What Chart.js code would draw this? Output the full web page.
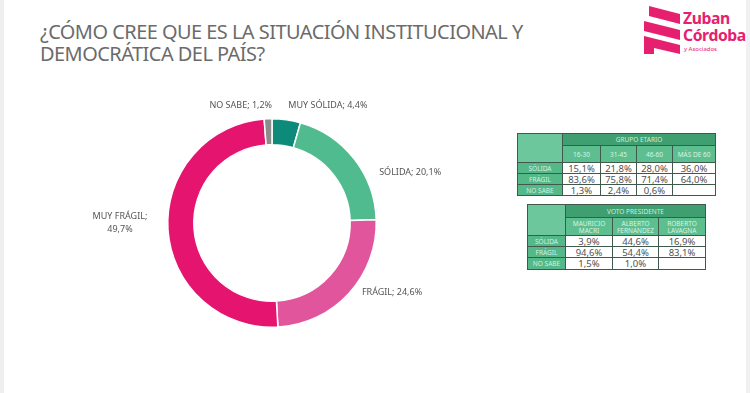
<!DOCTYPE html>
<html>
<head>
<meta charset="utf-8">
<script src="https://cdn.jsdelivr.net/npm/chart.js@4.4.1/dist/chart.umd.min.js"></script>
<style>
  html, body { margin: 0; padding: 0; background: #fff; }
  body { width: 750px; height: 393px; position: relative; overflow: hidden; font-family: "Noto Sans", sans-serif; }
  .edge-l { position: absolute; left: 0; top: 0; width: 4px; height: 393px; background: #eeeeee; }
  .edge-r { position: absolute; right: 0; top: 0; width: 4px; height: 393px; background: #f1f1f1; }
  .title { position: absolute; left: 40px; top: 21px; color: #6b6b6b; font-size: 19px; line-height: 22px; letter-spacing: -0.5px; transform-origin: 0 0; transform: scaleX(1.05); white-space: nowrap; }
  .logo { position: absolute; left: 640px; top: 4px; width: 110px; height: 52px; }
  .logo-text { position: absolute; left: 683px; top: 10px; color: #e6206f; font-weight: bold; font-size: 16px; line-height: 17px; letter-spacing: -0.4px; transform-origin: 0 0; transform: scaleX(0.98); }
  .logo-sub { position: absolute; left: 684px; top: 45px; color: #e6206f; font-size: 6px; }
  #donut-wrap { position: absolute; left: 60px; top: 80px; width: 424px; height: 286px; }
  table.tb { position: absolute; border-collapse: collapse; table-layout: fixed; font-size: 9.5px; color: #505050; }
  table.tb td { border: 1.5px solid #3f5a4c; padding: 0; text-align: center; line-height: 9px; overflow: hidden; white-space: nowrap; }
  table.tb td.corner { background: #6cc79c; }
  table.tb td.group { background: #3f9f71; color: #cdeedd; font-size: 6.5px; }
  table.tb td.head { background: #5dbf8f; color: #d7f3e5; font-size: 6.5px; line-height: 7px; white-space: normal; }
  table.tb td.rowl { background: #54b888; color: #d3f0e1; font-size: 6.5px; }
  table.tb td.val { background: #fff; }
</style>
</head>
<body>
<div class="edge-l"></div>
<div class="edge-r"></div>
<div class="title">¿CÓMO CREE QUE ES LA SITUACIÓN INSTITUCIONAL Y<br>DEMOCRÁTICA DEL PAÍS?</div>

<svg class="logo" viewBox="0 0 110 52">
  <polygon points="9,2 40,10 40,20 9,12" fill="#e6206f"/>
  <polygon points="4,17 40,26 40,36 4,27" fill="#e6206f"/>
  <polygon points="4,32 40,41 40,50 14,44 14,50 4,50" fill="#e6206f"/>
</svg>
<div class="logo-text">Zuban<br>Córdoba</div>
<div class="logo-sub">y Asociados</div>

<div id="donut-wrap"><canvas id="donut"></canvas></div>

<table class="tb" id="tb-age" style="left:517px; top:133px; width:198px;"></table>
<table class="tb" id="tb-vote" style="left:527px; top:204px; width:178px;"></table>

<script>
// Donut data, clockwise from 12 o'clock
const answerLabels = ['MUY SÓLIDA', 'SÓLIDA', 'FRÁGIL', 'MUY FRÁGIL', 'NO SABE'];
const answerValues = [4.4, 20.1, 24.6, 49.7, 1.2];
const answerColors = ['#0e8a7b', '#4fbb8e', '#e0559b', '#e5156f', '#8c8c8c'];

// Tables
const tableRowLabels = ['SÓLIDA', 'FRÁGIL', 'NO SABE'];
const ageGroups = ['16-30', '31-45', '46-60', 'MÁS DE 60'];
const ageSolida = ['15,1%', '21,8%', '28,0%', '36,0%'];
const ageFragil = ['83,6%', '75,8%', '71,4%', '64,0%'];
const ageNoSabe = ['1,3%', '2,4%', '0,6%', ''];
const voteCandidates = ['MAURICIO<br>MACRI', 'ALBERTO<br>FERNÁNDEZ', 'ROBERTO<br>LAVAGNA'];
const voteSolida = ['3,9%', '44,6%', '16,9%'];
const voteFragil = ['94,6%', '54,4%', '83,1%'];
const voteNoSabe = ['1,5%', '1,0%', ''];

const fmt = v => v.toFixed(1).replace('.', ',') + '%';

// label placement relative to each arc's outer mid point
const labelStyle = [
  { dx: 2, dy: -14, align: 'left' },
  { dx: 25, dy: 14, align: 'left' },
  { dx: 13, dy: -1, align: 'left' },
  { dx: -48, dy: -7, align: 'center', split: true },
  { dx: 4, dy: -13, align: 'right' },
];

const outsideLabels = {
  id: 'outsideLabels',
  afterDraw(chart) {
    const ctx = chart.ctx;
    const meta = chart.getDatasetMeta(0);
    ctx.save();
    ctx.font = '9px "Noto Sans", sans-serif';
    ctx.fillStyle = '#555555';
    ctx.textBaseline = 'middle';
    meta.data.forEach((arc, i) => {
      const p = arc.getProps(['x', 'y', 'startAngle', 'endAngle', 'outerRadius'], true);
      const mid = (p.startAngle + p.endAngle) / 2;
      const ax = p.x + Math.cos(mid) * p.outerRadius;
      const ay = p.y + Math.sin(mid) * p.outerRadius;
      const s = labelStyle[i];
      ctx.textAlign = s.align;
      const val = fmt(answerValues[i]);
      if (s.split) {
        ctx.fillText(answerLabels[i] + ';', ax + s.dx, ay + s.dy - 6);
        ctx.fillText(val, ax + s.dx, ay + s.dy + 7);
      } else {
        ctx.fillText(answerLabels[i] + '; ' + val, ax + s.dx, ay + s.dy);
      }
    });
    ctx.restore();
  },
};

new Chart(document.getElementById('donut'), {
  type: 'doughnut',
  data: {
    labels: answerLabels,
    datasets: [{
      data: answerValues,
      backgroundColor: answerColors,
      borderColor: '#ffffff',
      borderWidth: 1.5,
    }],
  },
  options: {
    cutout: '75%',
    rotation: 0,
    responsive: true,
    maintainAspectRatio: false,
    animation: false,
    layout: { padding: { top: 38, bottom: 38, left: 0, right: 0 } },
    plugins: {
      legend: { display: false },
      tooltip: { enabled: false },
    },
  },
  plugins: [outsideLabels],
});

// Build the two crosstab tables
function buildTable(id, groupTitle, heads, rows, colW, rowH) {
  const t = document.getElementById(id);
  let html = '<colgroup>' + colW.map(w => '<col style="width:' + w + 'px">').join('') + '</colgroup>';
  html += '<tr style="height:' + rowH[0] + 'px"><td class="corner" rowspan="2"></td><td class="group" colspan="' + heads.length + '">' + groupTitle + '</td></tr>';
  html += '<tr style="height:' + rowH[1] + 'px">' + heads.map(h => '<td class="head">' + h + '</td>').join('') + '</tr>';
  rows.forEach((r, i) => {
    html += '<tr style="height:' + rowH[i + 2] + 'px"><td class="rowl">' + tableRowLabels[i] + '</td>' +
      r.map(v => '<td class="val">' + v + '</td>').join('') + '</tr>';
  });
  t.innerHTML = html;
}

buildTable('tb-age', 'GRUPO ETARIO', ageGroups, [ageSolida, ageFragil, ageNoSabe],
  [45, 38, 36, 36, 43], [12, 17, 11, 11, 11]);
buildTable('tb-vote', 'VOTO PRESIDENTE', voteCandidates, [voteSolida, voteFragil, voteNoSabe],
  [38, 47, 46, 47], [13, 18, 11, 11, 12]);
</script>
</body>
</html>
